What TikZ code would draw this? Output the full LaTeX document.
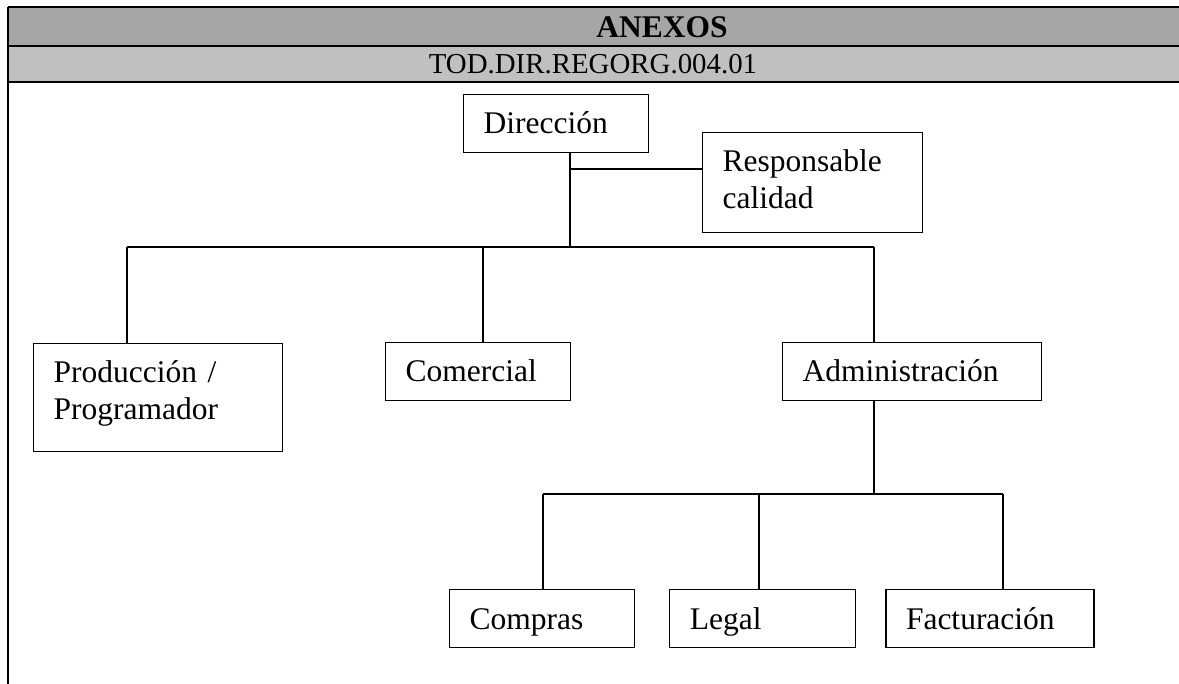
\documentclass[tikz,border=0pt]{standalone}
\usepackage{fontspec}
\setmainfont{Liberation Serif}
\usetikzlibrary{positioning}
\definecolor{hdrdark}{HTML}{A6A6A6}
\definecolor{hdrlight}{HTML}{C0C0C0}

\begin{document}
\begin{tikzpicture}[
    x=0.5pt, y=-0.5pt,
    box/.style={draw, line width=0.6pt, anchor=north west, align=left, inner xsep=10pt, inner ysep=9.3pt, text height=10.4pt, text depth=0pt, font=\fontsize{15.75}{18.5}\selectfont},
    link/.style={line width=0.6pt},
    rule/.style={line width=1pt}
]
    \useasboundingbox (0,0) rectangle (1179,684);

    % Header
    \fill[hdrdark] (8,7) rectangle (1179,46);
    \fill[hdrlight] (8,46) rectangle (1179,82);
    \draw[rule] (8,7) -- (1179,7);
    \draw[rule] (8,46) -- (1179,46);
    \draw[rule] (8,82) -- (1179,82);
    \draw[rule] (8,7) -- (8,684);
    \node (anexos) at (662,27) {\fontsize{15.75}{18}\selectfont\bfseries ANEXOS};
    \node (codigo) at (593,64) {\fontsize{14.44}{17}\selectfont TOD.DIR.REGORG.004.01};

    % Top level
    \node[box, text width=72.5pt] (dir) at (463,94) {Dirección};
    \node[box, text width=90pt, text depth=21pt] (resp) at (702,132) {Responsable\\calidad};

    % Departments
    \node[box, text width=104.5pt, text depth=25pt] (prod) at (33,343) {Producción /\\Programador};
    \node[box, text width=72.5pt] (com) at (385,342) {Comercial};
    \node[box, text width=109.5pt] (adm) at (782,342) {Administración};

    % Administration sections
    \node[box, text width=72.5pt] (comp) at (449,589) {Compras};
    \node[box, text width=73pt, right=17pt of comp] (leg) {Legal};
    \node[box, text width=84pt, right=14.5pt of leg] (fact) {Facturación};

    % Links
    \coordinate (rj) at (570,169);
    \coordinate (b0) at (570,247);
    \coordinate (b1) at (127,247);
    \coordinate (b2) at (483,247);
    \coordinate (b3) at (874,247);
    \draw[link] (dir.south -| b0) -- (b0);
    \draw[link] (rj) -- (rj -| resp.west);
    \draw[link] (b1) -- (b3);
    \draw[link] (b1) -- (b1 |- prod.north);
    \draw[link] (b2) -- (b2 |- com.north);
    \draw[link] (b3) -- (b3 |- adm.north);

    \coordinate (c1) at (543,494);
    \coordinate (c2) at (759,494);
    \coordinate (c3) at (1003,494);
    \draw[link] (b3 |- adm.south) -- (b3 |- c1);
    \draw[link] (c1) -- (c3);
    \draw[link] (c1) -- (c1 |- comp.north);
    \draw[link] (c2) -- (c2 |- leg.north);
    \draw[link] (c3) -- (c3 |- fact.north);
\end{tikzpicture}
\end{document}
